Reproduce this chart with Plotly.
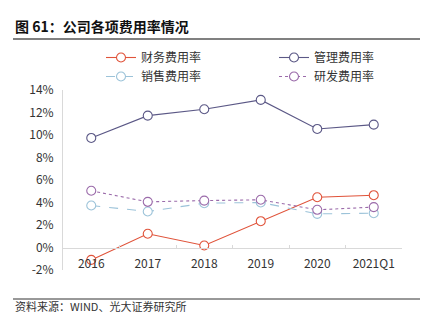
import plotly.graph_objects as go

categories = ["2016", "2017", "2018", "2019", "2020", "2021Q1"]
finance_rate = [-1.1, 1.22, 0.18, 2.34, 4.47, 4.65]
admin_rate = [9.74, 11.72, 12.29, 13.12, 10.54, 10.92]
sales_rate = [3.73, 3.2, 3.94, 4.0, 2.99, 3.05]
rd_rate = [5.04, 4.06, 4.17, 4.24, 3.35, 3.59]
y_ticks = [-2, 0, 2, 4, 6, 8, 10, 12, 14]
y_tick_labels = [f"{v}%" for v in y_ticks]

FONT = "Noto Sans CJK SC"
W, H = 434, 324
L, R, T, B = 63, 32, 90, 54

def px_x(x):
    return (x - L) / (W - L - R)

def px_y(y):
    return 1 - (y - T) / (H - T - B)

series = [
    ("财务费用率", finance_rate, "#E0533A", "solid", "legend"),
    ("管理费用率", admin_rate, "#5B5886", "solid", "legend2"),
    ("销售费用率", sales_rate, "#9CC3D9", "dash", "legend"),
    ("研发费用率", rd_rate, "#9B6BAA", "dot", "legend2"),
]

fig = go.Figure()
for name, vals, color, dash, lg in series:
    fig.add_trace(go.Scatter(
        x=categories, y=vals, name=name, mode="lines+markers",
        line=dict(color=color, width=1.1, dash=dash),
        marker=dict(symbol="circle", size=9, color="white",
                    line=dict(color=color, width=1.1)),
        legend=lg,
    ))

legend_common = dict(
    orientation="v", xanchor="left", yanchor="top",
    tracegroupgap=0, itemwidth=30,
    font=dict(family=FONT, size=12, color="#333333"),
    bgcolor="rgba(0,0,0,0)",
)

fig.update_layout(
    width=W, height=H,
    margin=dict(l=L, r=R, t=T, b=B, autoexpand=False),
    paper_bgcolor="white", plot_bgcolor="white",
    font=dict(family=FONT, size=12, color="#333333"),
    showlegend=True,
    legend=dict(x=px_x(101), y=px_y(43), **legend_common),
    legend2=dict(x=px_x(274), y=px_y(43), **legend_common),
    xaxis=dict(
        type="category", anchor="free", position=2 / 16,
        range=[-0.5, len(categories) - 0.5], automargin=False,
        showline=True, linecolor="#D9D9D9", linewidth=1,
        ticks="inside", tickson="boundaries", ticklen=3, tickcolor="#D9D9D9",
        showgrid=False, zeroline=False,
        tickfont=dict(family=FONT, size=12, color="#333333"),
        ticklabelstandoff=5,
    ),
    yaxis=dict(
        range=[-2, 14], tickvals=y_ticks, ticktext=y_tick_labels,
        automargin=False,
        showline=True, linecolor="#D9D9D9", linewidth=1,
        showgrid=False, zeroline=False, ticks="",
        tickfont=dict(family=FONT, size=12, color="#333333"),
        ticklabelstandoff=6,
    ),
)

# title and source
fig.add_annotation(
    text="<b>图 61：公司各项费用率情况</b>", xref="paper", yref="paper",
    x=px_x(13), y=px_y(26),
    xanchor="left", yanchor="middle", showarrow=False,
    font=dict(family=FONT, size=14, color="#111111"),
)
fig.add_annotation(
    text="资料来源：WIND、光大证券研究所", xref="paper", yref="paper",
    x=px_x(13), y=px_y(306),
    xanchor="left", yanchor="middle", showarrow=False,
    font=dict(family=FONT, size=11, color="#333333"),
)

fig.add_shape(type="line", xref="paper", yref="paper",
              x0=px_x(13), x1=px_x(420), y0=px_y(39), y1=px_y(39),
              line=dict(color="#808080", width=2))
fig.add_shape(type="line", xref="paper", yref="paper",
              x0=px_x(13), x1=px_x(420), y0=px_y(299), y1=px_y(299),
              line=dict(color="#333333", width=1))

fig.write_html("out.html")
